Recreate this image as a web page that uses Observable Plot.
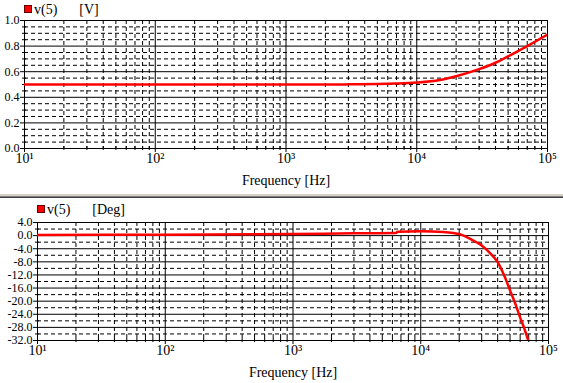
<!DOCTYPE html>
<html>
<head>
<meta charset="utf-8">
<script src="https://cdn.jsdelivr.net/npm/d3@7"></script>
<script src="https://cdn.jsdelivr.net/npm/@observablehq/plot@0.6"></script>
<style>
  html, body { margin: 0; padding: 0; background: #fff; }
  #wrap { position: relative; width: 563px; height: 383px; overflow: hidden; font-family: "Liberation Serif", serif; }
  #wrap svg, #wrap svg text { font-family: "Liberation Serif", serif !important; }
  .panel { position: absolute; left: 0; }
  .legend { position: absolute; font-size: 14px; color: #000; white-space: nowrap; line-height: 14px; }
  .legend .sw { display: inline-block; width: 6px; height: 6px; background: #ff0000; border: 1px solid #600; margin-right: 2px; vertical-align: 1px; }
  .sep1 { position: absolute; left: 0; top: 194px; width: 563px; height: 2px; background: #d4d0c8; }
  .sep2 { position: absolute; left: 0; top: 196px; width: 563px; height: 1px; background: #808080; }
  .sep3 { position: absolute; left: 0; top: 197px; width: 563px; height: 1px; background: #404040; }
</style>
</head>
<body>
<div id="wrap">
  <div class="panel" id="top" style="top:0px"></div>
  <div class="panel" id="bot" style="top:200px"></div>
  <div class="sep1"></div><div class="sep2"></div><div class="sep3"></div>
  <div class="legend" style="left:24px; top:3px"><span class="sw"></span>v(5)<span style="margin-left:22px">[V]</span></div>
  <div class="legend" style="left:37px; top:203px"><span class="sw"></span>v(5)<span style="margin-left:22px">[Deg]</span></div>
</div>
<script>
// ---- data ----
const magFreq = [10, 100, 1000, 2000, 3000, 5000, 7000, 10000, 15000, 20000, 30000, 40000, 50000, 70000, 100000];
const magV    = [0.5, 0.5, 0.5, 0.5, 0.501, 0.503, 0.507, 0.515, 0.535, 0.565, 0.62, 0.67, 0.72, 0.80, 0.89];

const phFreq  = [10, 100, 1000, 3000, 6400, 6600, 10000, 15000, 18000, 20000, 22500, 25000, 27500, 30000, 35000, 40000, 45000, 50000, 55000, 60000, 65000, 70000];
const phDeg   = [0.2, 0.3, 0.5, 0.7, 0.8, 1.2, 1.3, 1.1, 0.8, 0.5, -0.3, -1.2, -2.1, -3.0, -5.4, -8.1, -12.2, -16.7, -20.8, -25.0, -28.6, -32.5];

// ---- ticks / grid ----
const decades = [10, 100, 1000, 10000, 100000];
const decadeLabels = ["10\u00B9", "10\u00B2", "10\u00B3", "10\u2074", "10\u2075"];
const minorX = [];
for (const d of [10, 100, 1000, 10000]) for (let m = 2; m <= 9; m++) minorX.push(d * m);

const magTicks = [0.0, 0.2, 0.4, 0.6, 0.8, 1.0];
const magMinor = [0.05, 0.1, 0.15, 0.25, 0.3, 0.35, 0.45, 0.5, 0.55, 0.65, 0.7, 0.75, 0.85, 0.9, 0.95];
const phTicks = [4, 0, -4, -8, -12, -16, -20, -24, -28, -32];
const phMinor = [2, -2, -6, -10, -14, -18, -22, -26, -30];

const magData = magFreq.map((f, i) => ({f, v: magV[i]}));
const phData = phFreq.map((f, i) => ({f, v: phDeg[i]}));

const supFmt = d => decadeLabels[decades.indexOf(d)];

function panel({height, mt, mb, ml, mr, ydom, yTicks, yMinor, data}) {
  return Plot.plot({
    width: 563, height,
    marginTop: mt, marginBottom: mb, marginLeft: ml, marginRight: mr,
    x: {type: "log", domain: [10, 100000]},
    y: {domain: ydom},
    style: {fontFamily: "'Liberation Serif', serif", fontSize: "12px", background: "white", overflow: "visible", color: "black"},
    marks: [
      Plot.ruleX(minorX, {stroke: "black", strokeDasharray: "4,3", strokeOpacity: 1}),
      Plot.ruleX(decades.slice(1, 4), {stroke: "black", strokeOpacity: 1}),
      Plot.ruleY(yMinor, {stroke: "black", strokeDasharray: "4,3", strokeOpacity: 1}),
      Plot.ruleY(yTicks, {stroke: "black", strokeOpacity: 1}),
      Plot.frame({stroke: "black"}),
      Plot.axisX(decades, {tickFormat: supFmt, tickSize: 4, tickPadding: 1, fontSize: 14,
        label: "Frequency [Hz]", labelAnchor: "center", labelArrow: "none", labelOffset: 36}),
      Plot.axisX(minorX, {tickSize: 4, dy: -2, tickFormat: () => "", label: null}),
      Plot.axisY(yTicks, {tickFormat: d => d3.format(".1f")(d).replace("\u2212", "-"), tickSize: 4, tickPadding: 1, label: null}),
      Plot.axisY(yMinor, {tickSize: 4, dx: 2, tickFormat: () => "", label: null}),
      Plot.line(data, {x: "f", y: "v", stroke: "#ff0000", strokeWidth: 2.5, curve: "monotone-x", clip: true})
    ]
  });
}

document.getElementById("top").appendChild(panel({
  height: 192, mt: 20, mb: 44, ml: 24, mr: 16, ydom: [0, 1],
  yTicks: magTicks, yMinor: magMinor, data: magData
}));
document.getElementById("bot").appendChild(panel({
  height: 183, mt: 22, mb: 43, ml: 37, mr: 15, ydom: [-32, 4],
  yTicks: phTicks, yMinor: phMinor, data: phData
}));
// axis title font size
document.querySelectorAll("#wrap svg g[aria-label='x-axis label'] text").forEach(t => t.setAttribute("font-size", "14"));
</script>
</body>
</html>
